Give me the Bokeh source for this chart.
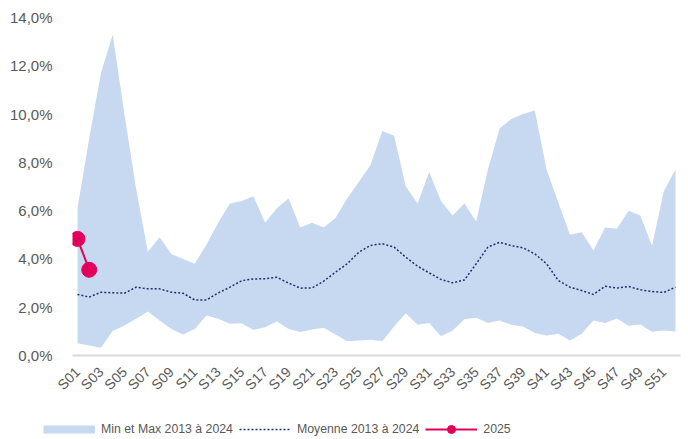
from bokeh.plotting import figure
from bokeh.models import (ColumnDataSource, Range1d, FixedTicker, Legend, LegendItem)
from bokeh.embed import file_html
from bokeh.resources import INLINE
from math import pi

weeks = [f"S{i:02d}" for i in range(1, 53)]
week_num = list(range(1, 53))

max_2013_2024 = [6.1, 9.0, 11.7, 13.3, 10.0, 6.9, 4.3, 4.9, 4.2, 4.0, 3.8, 4.6, 5.5, 6.3, 6.4, 6.6,
                 5.5, 6.1, 6.5, 5.3, 5.5, 5.3, 5.7, 6.5, 7.2, 7.9, 9.3, 9.1, 7.0, 6.3, 7.6, 6.4,
                 5.8, 6.3, 5.55, 7.7, 9.4, 9.8, 10.0, 10.15, 7.7, 6.35, 5.0, 5.1, 4.35, 5.3, 5.25,
                 6.0, 5.8, 4.55, 6.8, 7.7]
min_2013_2024 = [0.51, 0.41, 0.32, 1.01, 1.24, 1.52, 1.82, 1.45, 1.1, 0.87, 1.1, 1.66, 1.52, 1.31,
                 1.34, 1.06, 1.17, 1.41, 1.1, 0.97, 1.08, 1.15, 0.87, 0.59, 0.62, 0.65, 0.59, 1.2,
                 1.75, 1.27, 1.35, 0.8, 1.04, 1.5, 1.56, 1.35, 1.45, 1.27, 1.2, 0.93, 0.83, 0.9,
                 0.62, 0.9, 1.45, 1.35, 1.53, 1.23, 1.28, 0.98, 1.04, 0.99]
mean_2013_2024 = [2.53, 2.42, 2.62, 2.6, 2.58, 2.83, 2.76, 2.76, 2.62, 2.58, 2.3, 2.3, 2.59, 2.83,
                  3.1, 3.17, 3.18, 3.24, 3.0, 2.79, 2.8, 3.08, 3.45, 3.8, 4.28, 4.56, 4.63, 4.49,
                  4.07, 3.7, 3.42, 3.15, 3.01, 3.13, 3.8, 4.49, 4.69, 4.55, 4.46, 4.21, 3.8, 3.11,
                  2.83, 2.69, 2.53, 2.87, 2.79, 2.86, 2.72, 2.65, 2.61, 2.83]
weeks_2025 = [1, 2]
values_2025 = [4.83, 3.55]

y_ticks = [0, 2, 4, 6, 8, 10, 12, 14]
y_tick_labels = ["0,0%", "2,0%", "4,0%", "6,0%", "8,0%", "10,0%", "12,0%", "14,0%"]

BAND = "#c6d9f0"
MEAN = "#1f3070"
RED = "#e2005a"
TXT = "#595959"
FONT = "Liberation Sans"

src = ColumnDataSource(dict(x=week_num, lo=min_2013_2024, hi=max_2013_2024, mean=mean_2013_2024))
src25 = ColumnDataSource(dict(x=weeks_2025, y=values_2025))

pad = 5 / 11.725
p = figure(width=688, height=409, output_backend="svg", toolbar_location=None,
           x_range=Range1d(1 - pad, 52 + pad), y_range=Range1d(0, 14),
           min_border_left=72, min_border_right=8, min_border_top=17, min_border_bottom=54)
p.outline_line_color = None
p.xgrid.visible = False
p.ygrid.visible = False

p.varea(x="x", y1="lo", y2="hi", source=src, fill_color=BAND)
p.line(x="x", y="mean", source=src, line_color=MEAN, line_width=1.5, line_dash="2 2")
p.line(x="x", y="y", source=src25, line_color=RED, line_width=2)
p.scatter(x="x", y="y", source=src25, size=15, fill_color=RED, line_color=RED)

xa = p.xaxis[0]
xa.ticker = FixedTicker(ticks=week_num[::2])
xa.major_label_overrides = {n: w for n, w in zip(week_num, weeks)}
xa.major_label_orientation = pi / 4
xa.major_label_text_font = FONT
xa.major_label_text_font_size = "14px"
xa.major_label_text_color = TXT
xa.major_tick_line_color = None
xa.minor_tick_line_color = None
xa.axis_line_color = "#d9d9d9"
xa.axis_line_width = 2
xa.major_label_standoff = 8

ya = p.yaxis[0]
ya.ticker = FixedTicker(ticks=y_ticks)
ya.major_label_overrides = {t: s for t, s in zip(y_ticks, y_tick_labels)}
ya.major_label_text_font = FONT
ya.major_label_text_font_size = "15px"
ya.major_label_text_color = TXT
ya.major_tick_line_color = None
ya.minor_tick_line_color = None
ya.axis_line_color = None
ya.major_label_standoff = 14

# legend strip (keys drawn from the same sources, outside the visible range)
lg = figure(width=688, height=30, output_backend="svg", toolbar_location=None,
            x_range=Range1d(1000, 1001), y_range=Range1d(1000, 1001),
            x_axis_type=None, y_axis_type=None,
            min_border_left=0, min_border_right=0, min_border_top=0, min_border_bottom=0)
lg.outline_line_color = None
lg.xgrid.visible = False
lg.ygrid.visible = False
k_band = lg.line(x="x", y="hi", source=src, line_color=BAND, line_width=8)
k_mean = lg.line(x="x", y="mean", source=src, line_color=MEAN, line_width=1.5, line_dash="2 2")
k_l25 = lg.line(x="x", y="y", source=src25, line_color=RED, line_width=2)
k_s25 = lg.scatter(x="x", y="y", source=src25, size=15, fill_color=RED, line_color=RED)

legend = Legend(items=[
    LegendItem(label="Min et Max 2013 à 2024", renderers=[k_band]),
    LegendItem(label="Moyenne 2013 à 2024", renderers=[k_mean]),
    LegendItem(label="2025", renderers=[k_l25, k_s25]),
], location=(43, 0), orientation="horizontal")
legend.glyph_width = 52
legend.glyph_height = 20
legend.label_height = 20
legend.label_standoff = 6
legend.spacing = 6
legend.padding = 0
legend.margin = 0
legend.border_line_color = None
legend.background_fill_alpha = 0
legend.label_text_font = FONT
legend.label_text_font_size = "12.3px"
legend.label_text_color = TXT
lg.add_layout(legend, "center")

open("out.html", "w").write(file_html([p, lg], INLINE))
